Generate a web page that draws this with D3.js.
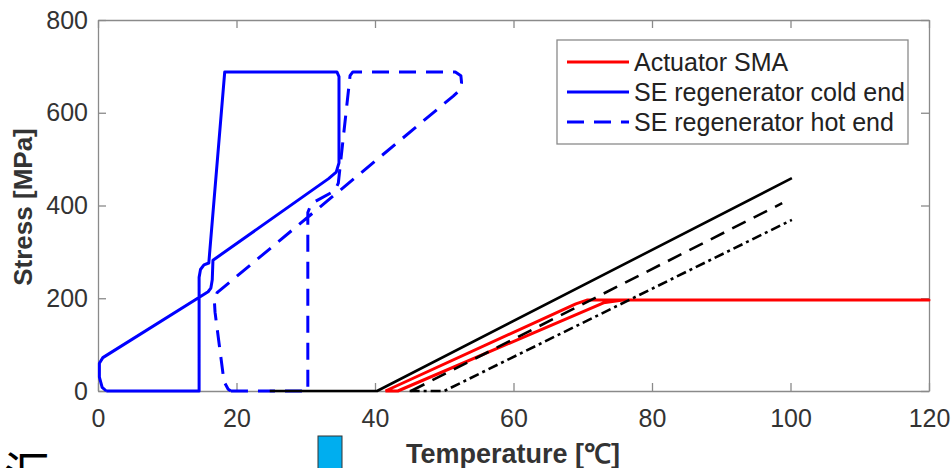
<!DOCTYPE html>
<html>
<head>
<meta charset="utf-8">
<script src="https://cdn.jsdelivr.net/npm/d3@7"></script>
<style>
  body { margin: 0; background: #fff; }
  svg { display: block; font-family: Arial, "Liberation Sans", sans-serif; }
</style>
</head>
<body>
<svg id="stage" width="951" height="468"></svg>
<script>
var tempTicks = [0, 20, 40, 60, 80, 100, 120],
    stressTicks = [0, 200, 400, 600, 800];

// actuator SMA loop
var actuatorT = [41.5, 69.0, 70.6, 120, 75.8, 73.0, 43.3, 41.5],
    actuatorS = [0, 188, 196, 196, 196, 190, 0, 0];

// SE regenerator, cold end
var coldT = [1.2, 14.6, 14.6, 14.8, 15.3, 16.0, 18.3, 34.5, 34.8, 34.8, 34.4, 33.3, 16.6, 16.5, 16.3, 15.9, 0.7, 0.2, 0.2, 0.6, 1.2],
    coldS = [0, 0, 245, 262, 272, 276, 688, 688, 678, 492, 472, 458, 282, 240, 222, 214, 72, 60, 30, 8, 0];

// SE regenerator, hot end
var hotT = [19.2, 30.3, 30.3, 30.8, 34.2, 34.7, 36.4, 36.8, 51.6, 52.4, 52.5, 52.2, 51.3, 17.2, 16.8, 16.9, 18.2, 18.8, 19.2],
    hotS = [0, 0, 385, 404, 432, 448, 680, 688, 688, 680, 665, 648, 636, 212, 195, 170, 20, 4, 0];

// black reference lines
var refSolidT = [24.8, 40.3, 100.2],
    refSolidS = [0, 0, 459],
    refDashT = [45.2, 98.8],
    refDashS = [0, 405],
    refDotT = [45.0, 50.0, 100.2],
    refDotS = [0, 0, 369];

var legendNames = ['Actuator SMA', 'SE regenerator cold end', 'SE regenerator hot end'];

var svg = d3.select('#stage'),
    AXIS = '#8a8a8a',
    LABEL = '#333';

var x = d3.scaleLinear().domain([0, 120]).range([98, 929]),
    y = d3.scaleLinear().domain([0, 800]).range([391, 20]);

function zipPoints(ts, ss) {
  return ts.map(function (t, i) { return [t, ss[i]]; });
}

var line = d3.line()
  .x(function (d) { return x(d[0]); })
  .y(function (d) { return y(d[1]); });

function styleAxis(g) {
  g.selectAll('path, line').attr('stroke', AXIS).attr('stroke-width', 1.3);
  g.selectAll('text')
    .attr('fill', LABEL)
    .attr('font-size', 25)
    .attr('font-family', 'Arial, "Liberation Sans", sans-serif');
}

// axes box, MATLAB style with inward ticks
svg.append('g')
  .attr('transform', 'translate(0,' + y(0) + ')')
  .call(d3.axisBottom(x).tickValues(tempTicks).tickSize(-8).tickSizeOuter(0).tickPadding(18))
  .call(styleAxis);

svg.append('g')
  .attr('transform', 'translate(0,' + y(800) + ')')
  .call(d3.axisTop(x).tickValues(tempTicks).tickSize(-8).tickSizeOuter(0).tickFormat(''))
  .call(styleAxis);

svg.append('g')
  .attr('transform', 'translate(' + x(0) + ',0)')
  .call(d3.axisLeft(y).tickValues(stressTicks).tickSize(-8).tickSizeOuter(0).tickPadding(10))
  .call(styleAxis);

svg.append('g')
  .attr('transform', 'translate(' + x(120) + ',0)')
  .call(d3.axisRight(y).tickValues(stressTicks).tickSize(-8).tickSizeOuter(0).tickFormat(''))
  .call(styleAxis);

// curves
function drawCurve(pts, colour, width, dash) {
  svg.append('path')
    .datum(pts)
    .attr('d', line)
    .attr('fill', 'none')
    .attr('stroke', colour)
    .attr('stroke-width', width)
    .attr('stroke-linejoin', 'round')
    .attr('stroke-dasharray', dash || null);
}

drawCurve(zipPoints(actuatorT, actuatorS), '#ff0000', 3);
drawCurve(zipPoints(coldT, coldS), '#0000ff', 3);
drawCurve(zipPoints(hotT, hotS), '#0000ff', 3, '17,10');
drawCurve(zipPoints(refSolidT, refSolidS), '#000', 2.6);
drawCurve(zipPoints(refDashT, refDashS), '#000', 2.6, '15,9');
drawCurve(zipPoints(refDotT, refDotS), '#000', 2.6, '10,4,3,4');

// axis titles
svg.append('text')
  .attr('x', 513)
  .attr('y', 463)
  .attr('text-anchor', 'middle')
  .attr('font-size', 27)
  .attr('font-weight', 'bold')
  .attr('fill', LABEL)
  .text('Temperature [℃]');

svg.append('text')
  .attr('transform', 'translate(32,207) rotate(-90)')
  .attr('text-anchor', 'middle')
  .attr('font-size', 26)
  .attr('font-weight', 'bold')
  .attr('fill', LABEL)
  .text('Stress [MPa]');

// legend
var legend = svg.append('g');

legend.append('rect')
  .attr('x', 557).attr('y', 40)
  .attr('width', 351).attr('height', 104)
  .attr('fill', '#fff')
  .attr('stroke', AXIS)
  .attr('stroke-width', 1.3);

var legendStyle = [
  { colour: '#ff0000', dash: null },
  { colour: '#0000ff', dash: null },
  { colour: '#0000ff', dash: '17,10' }
];

legendNames.forEach(function (name, i) {
  var cy = 62 + i * 30;
  legend.append('line')
    .attr('x1', 567).attr('x2', 629)
    .attr('y1', cy).attr('y2', cy)
    .attr('stroke', legendStyle[i].colour)
    .attr('stroke-width', 3)
    .attr('stroke-dasharray', legendStyle[i].dash);
  legend.append('text')
    .attr('x', 634)
    .attr('y', cy)
    .attr('dy', '0.35em')
    .attr('font-size', 25)
    .attr('fill', '#222')
    .text(name);
});

// cropped bits along the bottom edge of the source picture
svg.append('text')
  .attr('x', 4)
  .attr('y', 490)
  .attr('font-size', 46)
  .attr('font-family', '"Noto Sans CJK SC", sans-serif')
  .attr('fill', '#000')
  .text('汇');

svg.append('rect')
  .attr('x', 318).attr('y', 436)
  .attr('width', 24).attr('height', 34)
  .attr('fill', '#00aeef')
  .attr('stroke', '#333')
  .attr('stroke-width', 1);
</script>
</body>
</html>
